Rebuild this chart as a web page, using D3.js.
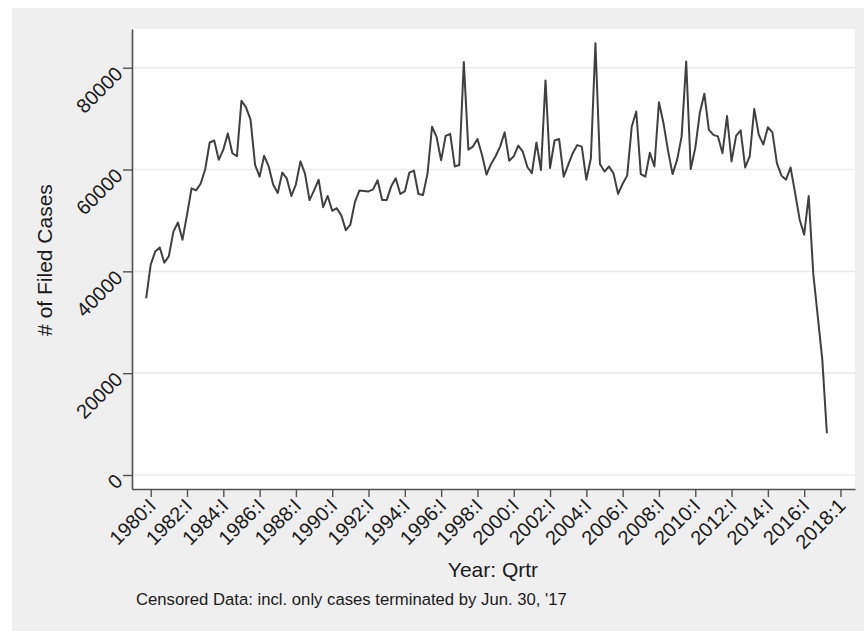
<!DOCTYPE html>
<html>
<head>
<meta charset="utf-8">
<script src="https://cdn.jsdelivr.net/npm/d3@7/dist/d3.min.js"></script>
<style>
  html, body { margin: 0; padding: 0; background: #ffffff; }
  svg { display: block; }
  text { font-family: "Liberation Sans", Arial, sans-serif; fill: #1a1a1a; }
</style>
</head>
<body>
<svg id="chart" width="864" height="631"></svg>
<script>
// Quarterly filed cases; the series starts in 1979:IV (quarter offset -1 from 1980:I)
const firstOffset = -1;
const filedCases = [
  34700,
  41300, 43900, 44700, 41700,   // 1980
  43000, 47800, 49600, 46200,   // 1981
  51100, 56300, 55900, 57200,   // 1982
  60000, 65300, 65700, 61900,   // 1983
  63900, 67100, 63200, 62600,   // 1984
  73500, 72200, 69800, 60900,   // 1985
  58600, 62700, 60600, 57000,   // 1986
  55400, 59400, 58200, 54800,   // 1987
  57100, 61600, 59200, 54000,   // 1988
  55900, 58000, 52600, 54800,   // 1989
  51900, 52400, 51000, 48100,   // 1990
  49200, 53600, 55900, 55800,   // 1991
  55700, 56100, 57900, 54000,   // 1992
  54000, 56700, 58300, 55200,   // 1993
  55700, 59400, 59800, 55200,   // 1994
  55000, 59200, 68400, 66400,   // 1995
  61800, 66600, 67000, 60600,   // 1996
  60900, 81100, 63900, 64500,   // 1997
  66000, 62900, 59000, 61100,   // 1998
  62600, 64500, 67300, 61700,   // 1999
  62600, 64700, 63500, 60500,   // 2000
  59300, 65300, 59900, 77500,   // 2001
  60300, 65700, 66000, 58600,   // 2002
  60900, 63200, 64800, 64500,   // 2003
  58000, 62200, 84800, 61100,   // 2004
  59600, 60600, 59200, 55200,   // 2005
  57200, 58800, 68400, 71400,   // 2006
  59100, 58600, 63300, 60600,   // 2007
  73200, 69100, 63700, 59100,   // 2008
  61900, 66500, 81200, 60100,   // 2009
  64200, 71100, 74900, 67800,   // 2010
  66800, 66500, 63200, 70500,   // 2011
  61600, 66600, 67700, 60400,   // 2012
  62600, 71900, 66800, 64900,   // 2013
  68300, 67300, 61200, 58800,   // 2014
  58000, 60400, 55400, 50200,   // 2015
  47200, 54800, 39600, 31100,   // 2016
  22600, 8200                   // 2017
];

// Axis ticks
const yTicks = [0, 20000, 40000, 60000, 80000];
const xTickLabels = ["1980:I", "1982:I", "1984:I", "1986:I", "1988:I", "1990:I", "1992:I",
  "1994:I", "1996:I", "1998:I", "2000:I", "2002:I", "2004:I", "2006:I", "2008:I",
  "2010:I", "2012:I", "2014:I", "2016:I", "2018:1"];
const xTickOffsets = xTickLabels.map((_, i) => i * 8);   // quarters since 1980:I

const yTitle = "# of Filed Cases";
const xTitle = "Year: Qrtr";
const note = "Censored Data: incl. only cases terminated by Jun. 30, '17";

const svg = d3.select("#chart");

// Graph region and plot region
svg.append("rect").attr("x", 12).attr("y", 8).attr("width", 852).attr("height", 623).attr("fill", "#efefef");
const plot = { left: 132, right: 855, top: 29, bottom: 489 };
svg.append("rect").attr("x", plot.left).attr("y", plot.top)
  .attr("width", plot.right - plot.left).attr("height", plot.bottom - plot.top).attr("fill", "#ffffff");

const x = d3.scaleLinear().domain([-4.12, 155.2]).range([plot.left, plot.right]);
const y = d3.scaleLinear().domain([-2750, 87600]).range([plot.bottom, plot.top]);

// Horizontal grid
svg.append("g").selectAll("line").data(yTicks).join("line")
  .attr("x1", plot.left).attr("x2", plot.right)
  .attr("y1", d => y(d)).attr("y2", d => y(d))
  .attr("stroke", "#ebebeb").attr("stroke-width", 1.6);

// Series line
const pts = filedCases.map((v, i) => ({ t: firstOffset + i, v }));
svg.append("path").datum(pts)
  .attr("fill", "none").attr("stroke", "#404040").attr("stroke-width", 2)
  .attr("stroke-linejoin", "round")
  .attr("d", d3.line().x(d => x(d.t)).y(d => y(d.v)));

// Y axis
const yAxis = svg.append("g").attr("transform", `translate(${plot.left},0)`)
  .call(d3.axisLeft(y).tickValues(yTicks).tickSize(9).tickSizeOuter(0).tickFormat(d3.format("d")));
yAxis.select(".domain").attr("stroke", "#505050").attr("stroke-width", 1.6);
yAxis.selectAll(".tick line").attr("stroke", "#505050").attr("stroke-width", 1.4);
yAxis.selectAll(".tick text")
  .attr("x", null).attr("dy", null)
  .attr("font-size", 20).attr("fill", "#1a1a1a")
  .attr("text-anchor", "end")
  .attr("transform", "translate(-13,2) rotate(-45)")
  .attr("dy", "0.35em");

// X axis
const xAxis = svg.append("g").attr("transform", `translate(0,${plot.bottom})`)
  .call(d3.axisBottom(x).tickValues(xTickOffsets).tickSize(8).tickSizeOuter(0)
    .tickFormat((d, i) => xTickLabels[i]));
xAxis.select(".domain").attr("stroke", "#505050").attr("stroke-width", 1.6);
xAxis.selectAll(".tick line").attr("stroke", "#505050").attr("stroke-width", 1.4);
xAxis.selectAll(".tick text")
  .attr("y", null).attr("dy", null)
  .attr("font-size", 20).attr("fill", "#1a1a1a")
  .attr("text-anchor", "end")
  .attr("transform", "translate(1,13) rotate(-45)")
  .attr("dy", "0.35em");
svg.selectAll(".tick text").attr("font-family", "Liberation Sans, Arial, sans-serif");

// Titles
svg.append("text").attr("transform", "translate(52,260) rotate(-90)")
  .attr("text-anchor", "middle").attr("font-size", 21).text(yTitle);
svg.append("text").attr("x", 493).attr("y", 577)
  .attr("text-anchor", "middle").attr("font-size", 21).text(xTitle);
svg.append("text").attr("x", 136).attr("y", 605)
  .attr("font-size", 16.7).text(note);
</script>
</body>
</html>
